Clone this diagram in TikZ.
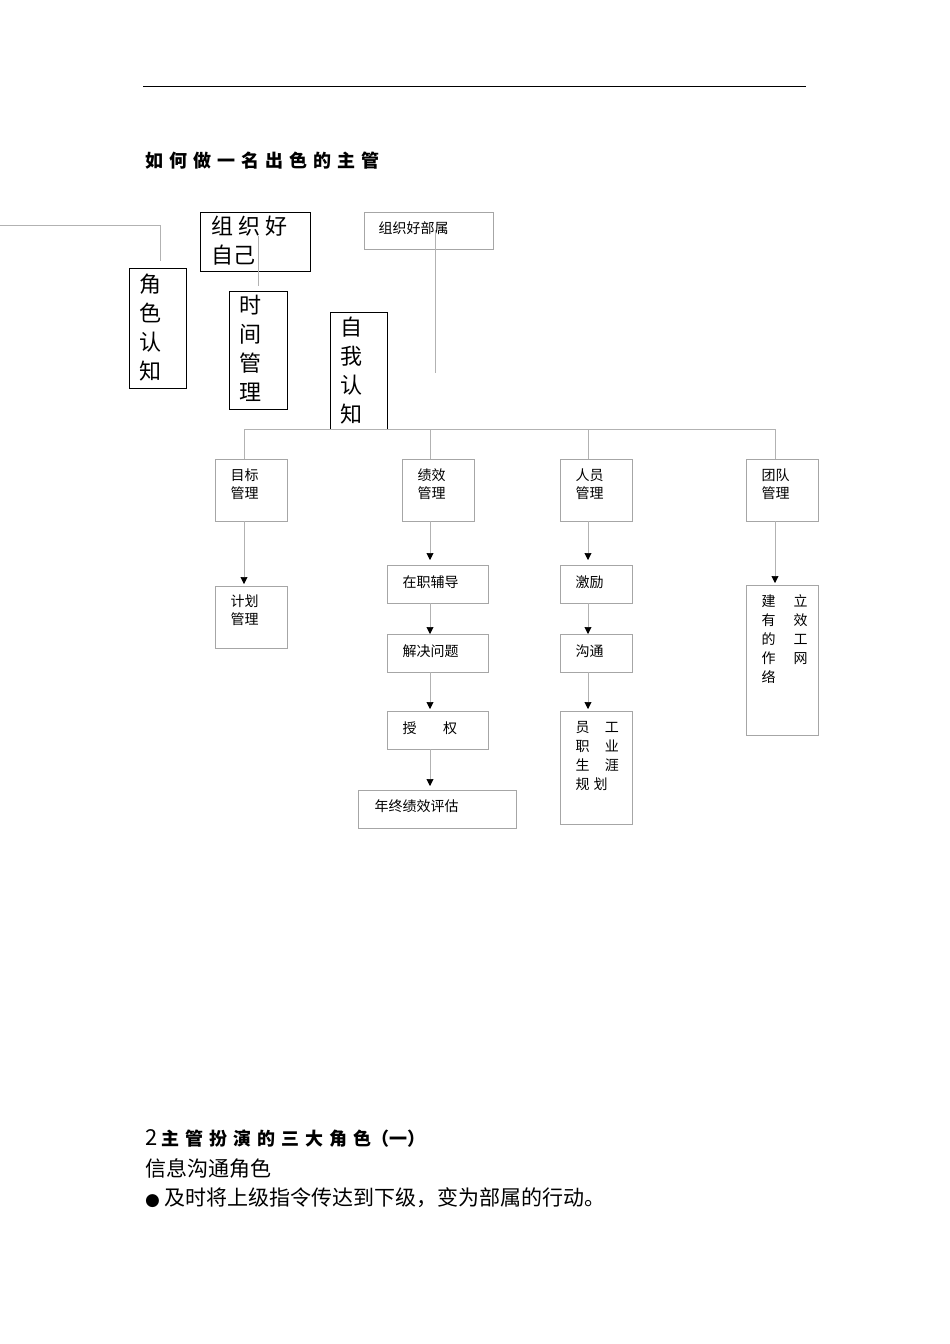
\documentclass[tikz,border=0pt]{standalone}
\usepackage{fontspec}
\setmainfont{Noto Sans CJK SC}
\newfontfamily\dvs{DejaVu Sans}
\usetikzlibrary{arrows.meta}
\newcommand{\gp}{\hspace{6pt}}
\begin{document}
\begin{tikzpicture}[x=1pt,y=-1pt,
  gl/.style={draw=gray!60,line width=0.6pt},
  ar/.style={gl,-{Triangle[black,length=7pt,width=7pt]}},
  bx/.style={draw=gray!70,line width=0.6pt,inner sep=0pt},
  bigbx/.style={draw=black,line width=0.8pt,inner sep=0pt},
  sm/.style={font=\fontsize{14}{18}\selectfont,align=left,anchor=north west},
  lg/.style={font=\fontsize{22}{29}\selectfont,align=left,anchor=north west}]
\useasboundingbox (0,0) rectangle (950,1344);
\draw[black,line width=0.8pt] (143,86) -- (806,86);
\node[anchor=west,inner sep=0pt,font=\bfseries\fontsize{18}{20}\selectfont] (title) at (145,161) {如\gp 何\gp 做\gp 一\gp 名\gp 出\gp 色\gp 的\gp 主\gp 管};
% top left
\coordinate (tl0) at (0,225); \coordinate (tl1) at (160,225); \coordinate (tl2) at (160,261);
\draw[gl] (tl0) -- (tl1) -- (tl2);
\draw[bigbx] (200,212) rectangle (310,271);
\node[lg] (zzhzj) at (208,212) {组 织 好\\自己};
\coordinate (za) at (258,236); \coordinate (zb) at (258,286);
\draw[gl] (za) -- (zb);
\draw[bigbx] (129,268) rectangle (186,388);
\node[lg] (jsrz) at (136,270) {角\\色\\认\\知};
\draw[bigbx] (229,291) rectangle (287,409);
\node[lg] (sjgl) at (236,292) {时\\间\\管\\理};
\draw[bigbx] (330,312) rectangle (387,429);
\node[lg] (zwrz) at (337,313) {自\\我\\认\\知};
\draw[bx] (364,212) rectangle (493,249);
\node[sm] (zzhbs) at (375,218) {组织好部属};
\coordinate (ba) at (435,230); \coordinate (bb) at (435,373);
\draw[gl] (ba) -- (bb);
% bus
\coordinate (h1) at (244,429); \coordinate (h4) at (775,429);
\draw[gl] (h1) -- (h4);
\foreach \x in {244,430,588,775} \draw[gl] (\x,429) -- (\x,459);
% level boxes
\foreach \x/\t/\n in {215/目标\\管理/mb,402/绩效\\管理/jx,560/人员\\管理/ry,746/团队\\管理/td}{
  \draw[bx] (\x,459) rectangle ++(72,62);
  \node[sm] (\n) at (\x+12,465) {\t};
}
% mubiao
\draw[ar] (244,521) -- (244,584);
\draw[bx] (215,586) rectangle (287,648);
\node[sm] (jhgl) at (227,591) {计划\\管理};
% jixiao
\draw[ar] (430,521) -- (430,560);
\draw[bx] (387,565) rectangle (488,603);
\node[sm] (zzfd) at (399,572) {在职辅导};
\draw[ar] (430,603) -- (430,634);
\draw[bx] (387,634) rectangle (488,672);
\node[sm] (jjwt) at (399,641) {解决问题};
\draw[ar] (430,672) -- (430,709);
\draw[bx] (387,711) rectangle (488,749);
\node[sm] (sq) at (399,718) {授\hspace{1.9em}权};
\draw[ar] (430,749) -- (430,786);
\draw[bx] (358,790) rectangle (516,828);
\node[sm] (njpg) at (371,796) {年终绩效评估};
% renyuan
\draw[ar] (588,521) -- (588,560);
\draw[bx] (560,565) rectangle (632,603);
\node[sm] (jl) at (572,572) {激励};
\draw[ar] (588,603) -- (588,634);
\draw[bx] (560,634) rectangle (632,672);
\node[sm] (gt) at (572,641) {沟通};
\draw[ar] (588,672) -- (588,709);
\draw[bx] (560,711) rectangle (632,824);
\node[sm,font=\fontsize{14}{19}\selectfont] (zysy) at (572,718) {员\hspace{1.1em}工\\职\hspace{1.1em}业\\生\hspace{1.1em}涯\\规\hspace{0.3em}划};
% tuandui
\draw[ar] (775,521) -- (775,583);
\draw[bx] (746,585) rectangle (818,735);
\node[sm,font=\fontsize{14}{19}\selectfont] (jlwl) at (758,591) {建\hspace{1.3em}立\\有\hspace{1.3em}效\\的\hspace{1.3em}工\\作\hspace{1.3em}网\\络};
% bottom
\node[anchor=west,inner sep=0pt] (t2) at (145,1138) {\fontsize{22}{24}\selectfont 2\,\bfseries\fontsize{18}{20}\selectfont 主\gp 管\gp 扮\gp 演\gp 的\gp 三\gp 大\gp 角\gp 色（一）};
\node[anchor=west,inner sep=0pt,font=\fontsize{21}{24}\selectfont] (t3) at (145,1168) {信息沟通角色};
\node[anchor=west,inner sep=0pt,font=\fontsize{21}{24}\selectfont] (t4) at (145,1198) {{\dvs\fontsize{17}{20}\selectfont ●} 及时将上级指令传达到下级，变为部属的行动。};
\end{tikzpicture}
\end{document}
